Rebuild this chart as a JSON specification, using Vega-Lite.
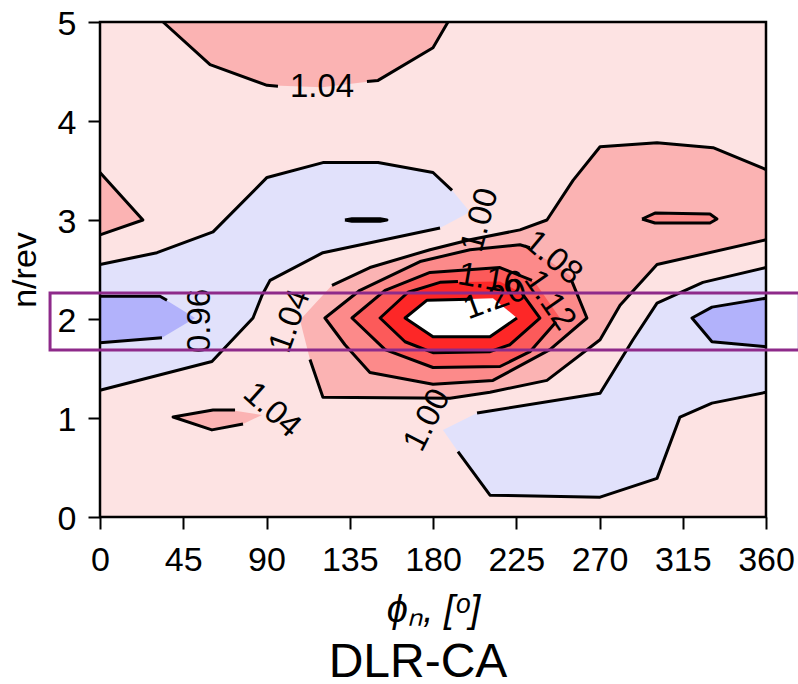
{
  "$schema": "https://vega.github.io/schema/vega-lite/v6.json",
  "width": 666,
  "height": 495,
  "autosize": {"type": "none"},
  "padding": {"left": 100, "top": 22, "right": 32, "bottom": 167},
  "background": "white",
  "config": {
    "font": "Liberation Sans",
    "view": {"stroke": null, "fill": "#fde3e3"}
  },
  "title": {
    "text": "DLR-CA",
    "orient": "bottom",
    "anchor": "middle",
    "offset": 48,
    "baseline": "alphabetic",
    "dx": -15,
    "fontSize": 48,
    "fontWeight": "normal",
    "color": "black"
  },
  "datasets": {
    "regions": [
      {"s": "B1", "lo": 0.96, "k": 1, "x": 0, "y": 2.55},
      {"s": "B1", "lo": 0.96, "k": 2, "x": 30.8, "y": 2.67},
      {"s": "B1", "lo": 0.96, "k": 3, "x": 61.1, "y": 2.88},
      {"s": "B1", "lo": 0.96, "k": 4, "x": 90.3, "y": 3.43},
      {"s": "B1", "lo": 0.96, "k": 5, "x": 120.5, "y": 3.58},
      {"s": "B1", "lo": 0.96, "k": 6, "x": 150.3, "y": 3.58},
      {"s": "B1", "lo": 0.96, "k": 7, "x": 180, "y": 3.48},
      {"s": "B1", "lo": 0.96, "k": 8, "x": 190.3, "y": 3.3},
      {"s": "B1", "lo": 0.96, "k": 9, "x": 200, "y": 3.08},
      {"s": "B1", "lo": 0.96, "k": 10, "x": 183.8, "y": 2.92},
      {"s": "B1", "lo": 0.96, "k": 11, "x": 120.5, "y": 2.67},
      {"s": "B1", "lo": 0.96, "k": 12, "x": 91.9, "y": 2.39},
      {"s": "B1", "lo": 0.96, "k": 13, "x": 87.6, "y": 2.24},
      {"s": "B1", "lo": 0.96, "k": 14, "x": 82.7, "y": 2.01},
      {"s": "B1", "lo": 0.96, "k": 15, "x": 66.5, "y": 1.69},
      {"s": "B1", "lo": 0.96, "k": 16, "x": 60.5, "y": 1.57},
      {"s": "B1", "lo": 0.96, "k": 17, "x": 0, "y": 1.28},

      {"s": "B2", "lo": 0.96, "k": 1, "x": 360, "y": 2.52},
      {"s": "B2", "lo": 0.96, "k": 2, "x": 325.9, "y": 2.37},
      {"s": "B2", "lo": 0.96, "k": 3, "x": 301.1, "y": 2.16},
      {"s": "B2", "lo": 0.96, "k": 4, "x": 288.1, "y": 1.79},
      {"s": "B2", "lo": 0.96, "k": 5, "x": 270.3, "y": 1.25},
      {"s": "B2", "lo": 0.96, "k": 6, "x": 203.8, "y": 1.05},
      {"s": "B2", "lo": 0.96, "k": 7, "x": 185.4, "y": 0.88},
      {"s": "B2", "lo": 0.96, "k": 8, "x": 193.5, "y": 0.66},
      {"s": "B2", "lo": 0.96, "k": 9, "x": 210.8, "y": 0.22},
      {"s": "B2", "lo": 0.96, "k": 10, "x": 270.3, "y": 0.2},
      {"s": "B2", "lo": 0.96, "k": 11, "x": 301.1, "y": 0.39},
      {"s": "B2", "lo": 0.96, "k": 12, "x": 313.5, "y": 1.01},
      {"s": "B2", "lo": 0.96, "k": 13, "x": 330.8, "y": 1.15},
      {"s": "B2", "lo": 0.96, "k": 14, "x": 360, "y": 1.26},

      {"s": "D1", "lo": 0.92, "k": 1, "x": 0, "y": 2.23},
      {"s": "D1", "lo": 0.92, "k": 2, "x": 32.4, "y": 2.23},
      {"s": "D1", "lo": 0.92, "k": 3, "x": 51.4, "y": 2.01},
      {"s": "D1", "lo": 0.92, "k": 4, "x": 33.5, "y": 1.81},
      {"s": "D1", "lo": 0.92, "k": 5, "x": 0, "y": 1.76},

      {"s": "D2", "lo": 0.92, "k": 1, "x": 360, "y": 2.21},
      {"s": "D2", "lo": 0.92, "k": 2, "x": 330.8, "y": 2.12},
      {"s": "D2", "lo": 0.92, "k": 3, "x": 320, "y": 2.01},
      {"s": "D2", "lo": 0.92, "k": 4, "x": 330.8, "y": 1.77},
      {"s": "D2", "lo": 0.92, "k": 5, "x": 360, "y": 1.72},

      {"s": "S2", "lo": 0.92, "k": 1, "x": 132.4, "y": 3.0},
      {"s": "S2", "lo": 0.92, "k": 2, "x": 136.2, "y": 3.012},
      {"s": "S2", "lo": 0.92, "k": 3, "x": 151.4, "y": 3.012},
      {"s": "S2", "lo": 0.92, "k": 4, "x": 155.1, "y": 3.0},
      {"s": "S2", "lo": 0.92, "k": 5, "x": 151.4, "y": 2.988},
      {"s": "S2", "lo": 0.92, "k": 6, "x": 136.2, "y": 2.988},

      {"s": "P1", "lo": 1.04, "k": 1, "x": 34.1, "y": 5},
      {"s": "P1", "lo": 1.04, "k": 2, "x": 59.5, "y": 4.57},
      {"s": "P1", "lo": 1.04, "k": 3, "x": 90.3, "y": 4.36},
      {"s": "P1", "lo": 1.04, "k": 4, "x": 120, "y": 4.34},
      {"s": "P1", "lo": 1.04, "k": 5, "x": 150.3, "y": 4.41},
      {"s": "P1", "lo": 1.04, "k": 6, "x": 180, "y": 4.74},
      {"s": "P1", "lo": 1.04, "k": 7, "x": 188.1, "y": 5},

      {"s": "P2", "lo": 1.04, "k": 1, "x": 0, "y": 3.48},
      {"s": "P2", "lo": 1.04, "k": 2, "x": 23.2, "y": 3.0},
      {"s": "P2", "lo": 1.04, "k": 3, "x": 0, "y": 2.85},

      {"s": "P3", "lo": 1.04, "k": 1, "x": 108.1, "y": 1.99},
      {"s": "P3", "lo": 1.04, "k": 2, "x": 125.4, "y": 2.34},
      {"s": "P3", "lo": 1.04, "k": 3, "x": 145.9, "y": 2.52},
      {"s": "P3", "lo": 1.04, "k": 4, "x": 178.4, "y": 2.7},
      {"s": "P3", "lo": 1.04, "k": 5, "x": 200, "y": 2.8},
      {"s": "P3", "lo": 1.04, "k": 6, "x": 227, "y": 2.9},
      {"s": "P3", "lo": 1.04, "k": 7, "x": 241.6, "y": 3.0},
      {"s": "P3", "lo": 1.04, "k": 8, "x": 255.7, "y": 3.4},
      {"s": "P3", "lo": 1.04, "k": 9, "x": 270.3, "y": 3.74},
      {"s": "P3", "lo": 1.04, "k": 10, "x": 301.1, "y": 3.78},
      {"s": "P3", "lo": 1.04, "k": 11, "x": 331.4, "y": 3.73},
      {"s": "P3", "lo": 1.04, "k": 12, "x": 360, "y": 3.51},
      {"s": "P3", "lo": 1.04, "k": 13, "x": 360, "y": 2.8},
      {"s": "P3", "lo": 1.04, "k": 14, "x": 301.1, "y": 2.55},
      {"s": "P3", "lo": 1.04, "k": 15, "x": 281.1, "y": 2.14},
      {"s": "P3", "lo": 1.04, "k": 16, "x": 270.3, "y": 1.79},
      {"s": "P3", "lo": 1.04, "k": 17, "x": 241.6, "y": 1.38},
      {"s": "P3", "lo": 1.04, "k": 18, "x": 210.8, "y": 1.26},
      {"s": "P3", "lo": 1.04, "k": 19, "x": 189.2, "y": 1.2},
      {"s": "P3", "lo": 1.04, "k": 20, "x": 120.5, "y": 1.21},
      {"s": "P3", "lo": 1.04, "k": 21, "x": 113.5, "y": 1.59},

      {"s": "P4", "lo": 1.04, "k": 1, "x": 39.5, "y": 1.01},
      {"s": "P4", "lo": 1.04, "k": 2, "x": 61.1, "y": 1.08},
      {"s": "P4", "lo": 1.04, "k": 3, "x": 70.3, "y": 1.08},
      {"s": "P4", "lo": 1.04, "k": 4, "x": 87.6, "y": 1.03},
      {"s": "P4", "lo": 1.04, "k": 5, "x": 77.3, "y": 0.94},
      {"s": "P4", "lo": 1.04, "k": 6, "x": 60.5, "y": 0.88},

      {"s": "R1", "lo": 1.08, "k": 1, "x": 121.6, "y": 2.01},
      {"s": "R1", "lo": 1.08, "k": 2, "x": 140.5, "y": 2.29},
      {"s": "R1", "lo": 1.08, "k": 3, "x": 173, "y": 2.58},
      {"s": "R1", "lo": 1.08, "k": 4, "x": 200, "y": 2.7},
      {"s": "R1", "lo": 1.08, "k": 5, "x": 227, "y": 2.75},
      {"s": "R1", "lo": 1.08, "k": 6, "x": 243.2, "y": 2.58},
      {"s": "R1", "lo": 1.08, "k": 7, "x": 254.1, "y": 2.44},
      {"s": "R1", "lo": 1.08, "k": 8, "x": 263.2, "y": 2.01},
      {"s": "R1", "lo": 1.08, "k": 9, "x": 243.2, "y": 1.69},
      {"s": "R1", "lo": 1.08, "k": 10, "x": 212.4, "y": 1.38},
      {"s": "R1", "lo": 1.08, "k": 11, "x": 180, "y": 1.34},
      {"s": "R1", "lo": 1.08, "k": 12, "x": 145.9, "y": 1.46},
      {"s": "R1", "lo": 1.08, "k": 13, "x": 132.4, "y": 1.74},

      {"s": "S1", "lo": 1.08, "k": 1, "x": 293, "y": 3.01},
      {"s": "S1", "lo": 1.08, "k": 2, "x": 300, "y": 3.07},
      {"s": "S1", "lo": 1.08, "k": 3, "x": 329.7, "y": 3.06},
      {"s": "S1", "lo": 1.08, "k": 4, "x": 333.5, "y": 3.01},
      {"s": "S1", "lo": 1.08, "k": 5, "x": 329.7, "y": 2.97},
      {"s": "S1", "lo": 1.08, "k": 6, "x": 300, "y": 2.97},

      {"s": "R2", "lo": 1.12, "k": 1, "x": 136.2, "y": 2.01},
      {"s": "R2", "lo": 1.12, "k": 2, "x": 154.1, "y": 2.29},
      {"s": "R2", "lo": 1.12, "k": 3, "x": 178.4, "y": 2.47},
      {"s": "R2", "lo": 1.12, "k": 4, "x": 216.2, "y": 2.52},
      {"s": "R2", "lo": 1.12, "k": 5, "x": 235.1, "y": 2.37},
      {"s": "R2", "lo": 1.12, "k": 6, "x": 248.6, "y": 2.01},
      {"s": "R2", "lo": 1.12, "k": 7, "x": 232.4, "y": 1.67},
      {"s": "R2", "lo": 1.12, "k": 8, "x": 216.2, "y": 1.52},
      {"s": "R2", "lo": 1.12, "k": 9, "x": 180, "y": 1.51},
      {"s": "R2", "lo": 1.12, "k": 10, "x": 154.1, "y": 1.69},

      {"s": "R3", "lo": 1.16, "k": 1, "x": 151.4, "y": 2.01},
      {"s": "R3", "lo": 1.16, "k": 2, "x": 166.5, "y": 2.27},
      {"s": "R3", "lo": 1.16, "k": 3, "x": 183.8, "y": 2.37},
      {"s": "R3", "lo": 1.16, "k": 4, "x": 216.2, "y": 2.38},
      {"s": "R3", "lo": 1.16, "k": 5, "x": 228.1, "y": 2.26},
      {"s": "R3", "lo": 1.16, "k": 6, "x": 237.8, "y": 2.01},
      {"s": "R3", "lo": 1.16, "k": 7, "x": 221.6, "y": 1.74},
      {"s": "R3", "lo": 1.16, "k": 8, "x": 210.8, "y": 1.67},
      {"s": "R3", "lo": 1.16, "k": 9, "x": 180, "y": 1.66},
      {"s": "R3", "lo": 1.16, "k": 10, "x": 164.9, "y": 1.77},

      {"s": "R4", "lo": 1.2, "k": 1, "x": 164.9, "y": 2.01},
      {"s": "R4", "lo": 1.2, "k": 2, "x": 176.8, "y": 2.19},
      {"s": "R4", "lo": 1.2, "k": 3, "x": 212.4, "y": 2.21},
      {"s": "R4", "lo": 1.2, "k": 4, "x": 225.4, "y": 2.01},
      {"s": "R4", "lo": 1.2, "k": 5, "x": 210.8, "y": 1.82},
      {"s": "R4", "lo": 1.2, "k": 6, "x": 180, "y": 1.82}
    ],
    "contours": [
      {"l": "top_a", "k": 1, "x": 34.1, "y": 5},
      {"l": "top_a", "k": 2, "x": 59.5, "y": 4.57},
      {"l": "top_a", "k": 3, "x": 90.3, "y": 4.36},
      {"l": "top_a", "k": 4, "x": 96.2, "y": 4.35},
      {"l": "top_b", "k": 1, "x": 144.3, "y": 4.4},
      {"l": "top_b", "k": 2, "x": 150.3, "y": 4.41},
      {"l": "top_b", "k": 3, "x": 180, "y": 4.74},
      {"l": "top_b", "k": 4, "x": 188.1, "y": 5},

      {"l": "left_tri", "k": 1, "x": 0, "y": 3.48},
      {"l": "left_tri", "k": 2, "x": 23.2, "y": 3.0},
      {"l": "left_tri", "k": 3, "x": 0, "y": 2.85},

      {"l": "blue1_up", "k": 1, "x": 0, "y": 2.55},
      {"l": "blue1_up", "k": 2, "x": 30.8, "y": 2.67},
      {"l": "blue1_up", "k": 3, "x": 61.1, "y": 2.88},
      {"l": "blue1_up", "k": 4, "x": 90.3, "y": 3.43},
      {"l": "blue1_up", "k": 5, "x": 120.5, "y": 3.58},
      {"l": "blue1_up", "k": 6, "x": 150.3, "y": 3.58},
      {"l": "blue1_up", "k": 7, "x": 180, "y": 3.48},
      {"l": "blue1_up", "k": 8, "x": 190.3, "y": 3.3},

      {"l": "blue1_lo", "k": 1, "x": 183.8, "y": 2.92},
      {"l": "blue1_lo", "k": 2, "x": 120.5, "y": 2.67},
      {"l": "blue1_lo", "k": 3, "x": 91.9, "y": 2.39},
      {"l": "blue1_lo", "k": 4, "x": 87.6, "y": 2.24},
      {"l": "blue1_lo", "k": 5, "x": 82.7, "y": 2.01},
      {"l": "blue1_lo", "k": 6, "x": 66.5, "y": 1.69},
      {"l": "blue1_lo", "k": 7, "x": 60.5, "y": 1.57},
      {"l": "blue1_lo", "k": 8, "x": 0, "y": 1.28},

      {"l": "dark1_up", "k": 1, "x": 0, "y": 2.23},
      {"l": "dark1_up", "k": 2, "x": 32.4, "y": 2.23},
      {"l": "dark1_up", "k": 3, "x": 36.2, "y": 2.19},
      {"l": "dark1_lo", "k": 1, "x": 33.5, "y": 1.81},
      {"l": "dark1_lo", "k": 2, "x": 0, "y": 1.76},

      {"l": "dark2", "k": 1, "x": 360, "y": 2.21},
      {"l": "dark2", "k": 2, "x": 330.8, "y": 2.12},
      {"l": "dark2", "k": 3, "x": 320, "y": 2.01},
      {"l": "dark2", "k": 4, "x": 330.8, "y": 1.77},
      {"l": "dark2", "k": 5, "x": 360, "y": 1.72},

      {"l": "sliver_l", "k": 1, "x": 132.4, "y": 3.0},
      {"l": "sliver_l", "k": 2, "x": 136.2, "y": 3.012},
      {"l": "sliver_l", "k": 3, "x": 151.4, "y": 3.012},
      {"l": "sliver_l", "k": 4, "x": 155.1, "y": 3.0},
      {"l": "sliver_l", "k": 5, "x": 151.4, "y": 2.988},
      {"l": "sliver_l", "k": 6, "x": 136.2, "y": 2.988},
      {"l": "sliver_l", "k": 7, "x": 132.4, "y": 3.0},

      {"l": "blue2_up", "k": 1, "x": 360, "y": 2.52},
      {"l": "blue2_up", "k": 2, "x": 325.9, "y": 2.37},
      {"l": "blue2_up", "k": 3, "x": 301.1, "y": 2.16},
      {"l": "blue2_up", "k": 4, "x": 288.1, "y": 1.79},
      {"l": "blue2_up", "k": 5, "x": 270.3, "y": 1.25},
      {"l": "blue2_up", "k": 6, "x": 203.8, "y": 1.05},

      {"l": "blue2_lo", "k": 1, "x": 193.5, "y": 0.66},
      {"l": "blue2_lo", "k": 2, "x": 210.8, "y": 0.22},
      {"l": "blue2_lo", "k": 3, "x": 270.3, "y": 0.2},
      {"l": "blue2_lo", "k": 4, "x": 301.1, "y": 0.39},
      {"l": "blue2_lo", "k": 5, "x": 313.5, "y": 1.01},
      {"l": "blue2_lo", "k": 6, "x": 330.8, "y": 1.15},
      {"l": "blue2_lo", "k": 7, "x": 360, "y": 1.26},

      {"l": "pink_up", "k": 1, "x": 125.4, "y": 2.34},
      {"l": "pink_up", "k": 2, "x": 145.9, "y": 2.52},
      {"l": "pink_up", "k": 3, "x": 178.4, "y": 2.7},
      {"l": "pink_up", "k": 4, "x": 200, "y": 2.8},
      {"l": "pink_up", "k": 5, "x": 227, "y": 2.9},
      {"l": "pink_up", "k": 6, "x": 241.6, "y": 3.0},
      {"l": "pink_up", "k": 7, "x": 255.7, "y": 3.4},
      {"l": "pink_up", "k": 8, "x": 270.3, "y": 3.74},
      {"l": "pink_up", "k": 9, "x": 301.1, "y": 3.78},
      {"l": "pink_up", "k": 10, "x": 331.4, "y": 3.73},
      {"l": "pink_up", "k": 11, "x": 360, "y": 3.51},

      {"l": "pink_lo", "k": 1, "x": 360, "y": 2.8},
      {"l": "pink_lo", "k": 2, "x": 301.1, "y": 2.55},
      {"l": "pink_lo", "k": 3, "x": 281.1, "y": 2.14},
      {"l": "pink_lo", "k": 4, "x": 270.3, "y": 1.79},
      {"l": "pink_lo", "k": 5, "x": 241.6, "y": 1.38},
      {"l": "pink_lo", "k": 6, "x": 210.8, "y": 1.26},
      {"l": "pink_lo", "k": 7, "x": 189.2, "y": 1.2},
      {"l": "pink_lo", "k": 8, "x": 120.5, "y": 1.21},
      {"l": "pink_lo", "k": 9, "x": 113.5, "y": 1.59},

      {"l": "pink_small", "k": 1, "x": 73, "y": 1.08},
      {"l": "pink_small", "k": 2, "x": 70.3, "y": 1.08},
      {"l": "pink_small", "k": 3, "x": 61.1, "y": 1.08},
      {"l": "pink_small", "k": 4, "x": 39.5, "y": 1.01},
      {"l": "pink_small", "k": 5, "x": 60.5, "y": 0.88},
      {"l": "pink_small", "k": 6, "x": 77.3, "y": 0.94},

      {"l": "ring108", "k": 1, "x": 255.1, "y": 2.38},
      {"l": "ring108", "k": 2, "x": 263.2, "y": 2.01},
      {"l": "ring108", "k": 3, "x": 243.2, "y": 1.69},
      {"l": "ring108", "k": 4, "x": 212.4, "y": 1.38},
      {"l": "ring108", "k": 5, "x": 180, "y": 1.34},
      {"l": "ring108", "k": 6, "x": 145.9, "y": 1.46},
      {"l": "ring108", "k": 7, "x": 132.4, "y": 1.74},
      {"l": "ring108", "k": 8, "x": 121.6, "y": 2.01},
      {"l": "ring108", "k": 9, "x": 140.5, "y": 2.29},
      {"l": "ring108", "k": 10, "x": 173, "y": 2.58},
      {"l": "ring108", "k": 11, "x": 200, "y": 2.7},
      {"l": "ring108", "k": 12, "x": 227, "y": 2.75},
      {"l": "ring108", "k": 13, "x": 232.4, "y": 2.72},

      {"l": "sliver_r", "k": 1, "x": 293, "y": 3.01},
      {"l": "sliver_r", "k": 2, "x": 300, "y": 3.07},
      {"l": "sliver_r", "k": 3, "x": 329.7, "y": 3.06},
      {"l": "sliver_r", "k": 4, "x": 333.5, "y": 3.01},
      {"l": "sliver_r", "k": 5, "x": 329.7, "y": 2.97},
      {"l": "sliver_r", "k": 6, "x": 300, "y": 2.97},
      {"l": "sliver_r", "k": 7, "x": 293, "y": 3.01},

      {"l": "ring112", "k": 1, "x": 246.5, "y": 1.97},
      {"l": "ring112", "k": 2, "x": 232.4, "y": 1.67},
      {"l": "ring112", "k": 3, "x": 216.2, "y": 1.52},
      {"l": "ring112", "k": 4, "x": 180, "y": 1.51},
      {"l": "ring112", "k": 5, "x": 154.1, "y": 1.69},
      {"l": "ring112", "k": 6, "x": 136.2, "y": 2.01},
      {"l": "ring112", "k": 7, "x": 154.1, "y": 2.29},
      {"l": "ring112", "k": 8, "x": 178.4, "y": 2.47},
      {"l": "ring112", "k": 9, "x": 216.2, "y": 2.52},
      {"l": "ring112", "k": 10, "x": 233.5, "y": 2.39},

      {"l": "ring116", "k": 1, "x": 228.1, "y": 2.26},
      {"l": "ring116", "k": 2, "x": 237.8, "y": 2.01},
      {"l": "ring116", "k": 3, "x": 221.6, "y": 1.74},
      {"l": "ring116", "k": 4, "x": 210.8, "y": 1.67},
      {"l": "ring116", "k": 5, "x": 180, "y": 1.66},
      {"l": "ring116", "k": 6, "x": 164.9, "y": 1.77},
      {"l": "ring116", "k": 7, "x": 151.4, "y": 2.01},
      {"l": "ring116", "k": 8, "x": 166.5, "y": 2.27},
      {"l": "ring116", "k": 9, "x": 183.8, "y": 2.37},
      {"l": "ring116", "k": 10, "x": 193.5, "y": 2.38},

      {"l": "ring120", "k": 1, "x": 225.4, "y": 2.01},
      {"l": "ring120", "k": 2, "x": 210.8, "y": 1.82},
      {"l": "ring120", "k": 3, "x": 180, "y": 1.82},
      {"l": "ring120", "k": 4, "x": 164.9, "y": 2.01},
      {"l": "ring120", "k": 5, "x": 176.8, "y": 2.19},
      {"l": "ring120", "k": 6, "x": 200, "y": 2.2}
    ],
    "labels": [
      {"t": "1.04", "x": 120, "y": 4.34, "a": 0},
      {"t": "1.04", "x": 93, "y": 1.08, "a": 42},
      {"t": "0.96", "x": 54.1, "y": 1.98, "a": -90},
      {"t": "1.04", "x": 102.7, "y": 1.98, "a": -70},
      {"t": "1.00", "x": 205.4, "y": 3.0, "a": -75},
      {"t": "1.00", "x": 176.8, "y": 0.98, "a": -63},
      {"t": "1.08", "x": 244.9, "y": 2.62, "a": 40},
      {"t": "1.12", "x": 243.2, "y": 2.19, "a": 55},
      {"t": "1.16", "x": 210.8, "y": 2.4, "a": 10},
      {"t": "1.20", "x": 213.5, "y": 2.2, "a": -20}
    ],
    "highlight": [{"x": -27, "xe": 378, "y": 1.687, "ye": 2.263}],
    "frame": [{"x": 0, "xe": 360, "y": 0, "ye": 5}]
  },
  "encoding": {
    "x": {
      "field": "x",
      "type": "quantitative",
      "scale": {"domain": [0, 360], "nice": false, "zero": false},
      "axis": {
        "values": [0, 45, 90, 135, 180, 225, 270, 315, 360],
        "grid": false,
        "domain": false,
        "ticks": true,
        "tickSize": 12,
        "tickWidth": 2,
        "tickColor": "black",
        "labelFontSize": 34,
        "labelColor": "black",
        "labelPadding": 14,
        "labelFlush": false,
        "labelOverlap": false,
        "title": "ϕₙ, [ᵒ]",
        "titleFontSize": 38,
        "titleFontWeight": "normal",
        "titleFontStyle": "italic",
        "titleColor": "black",
        "titleBaseline": "alphabetic",
        "titleY": 104
      }
    },
    "y": {
      "field": "y",
      "type": "quantitative",
      "scale": {"domain": [0, 5], "nice": false, "zero": false},
      "axis": {
        "values": [0, 1, 2, 3, 4, 5],
        "grid": false,
        "domain": false,
        "ticks": true,
        "tickSize": 12,
        "tickWidth": 2,
        "tickColor": "black",
        "labelFontSize": 34,
        "labelColor": "black",
        "labelPadding": 12,
        "labelFlush": false,
        "labelOverlap": false,
        "labelBaseline": "alphabetic",
        "labelOffset": 12,
        "title": "n/rev",
        "titleFontSize": 34,
        "titleFontWeight": "normal",
        "titleColor": "black",
        "titleAngle": 270,
        "titleBaseline": "alphabetic",
        "titleX": -65
      }
    }
  },
  "layer": [
    {
      "data": {"name": "regions"},
      "transform": [{"filter": "datum.lo == 0.96"}],
      "mark": {"type": "line", "filled": true, "interpolate": "linear-closed", "color": "#e1e1fb"},
      "encoding": {"detail": {"field": "s"}, "order": {"field": "k", "type": "quantitative"}}
    },
    {
      "data": {"name": "regions"},
      "transform": [{"filter": "datum.lo == 0.92"}],
      "mark": {"type": "line", "filled": true, "interpolate": "linear-closed", "color": "#b2b2fb"},
      "encoding": {"detail": {"field": "s"}, "order": {"field": "k", "type": "quantitative"}}
    },
    {
      "data": {"name": "regions"},
      "transform": [{"filter": "datum.lo == 1.04"}],
      "mark": {"type": "line", "filled": true, "interpolate": "linear-closed", "color": "#fbb3b3"},
      "encoding": {"detail": {"field": "s"}, "order": {"field": "k", "type": "quantitative"}}
    },
    {
      "data": {"name": "regions"},
      "transform": [{"filter": "datum.lo == 1.08"}],
      "mark": {"type": "line", "filled": true, "interpolate": "linear-closed", "color": "#fc8a8a"},
      "encoding": {"detail": {"field": "s"}, "order": {"field": "k", "type": "quantitative"}}
    },
    {
      "data": {"name": "regions"},
      "transform": [{"filter": "datum.lo == 1.12"}],
      "mark": {"type": "line", "filled": true, "interpolate": "linear-closed", "color": "#fc5a5a"},
      "encoding": {"detail": {"field": "s"}, "order": {"field": "k", "type": "quantitative"}}
    },
    {
      "data": {"name": "regions"},
      "transform": [{"filter": "datum.lo == 1.16"}],
      "mark": {"type": "line", "filled": true, "interpolate": "linear-closed", "color": "#fd2727"},
      "encoding": {"detail": {"field": "s"}, "order": {"field": "k", "type": "quantitative"}}
    },
    {
      "data": {"name": "regions"},
      "transform": [{"filter": "datum.lo == 1.2"}],
      "mark": {"type": "line", "filled": true, "interpolate": "linear-closed", "color": "#ffffff"},
      "encoding": {"detail": {"field": "s"}, "order": {"field": "k", "type": "quantitative"}}
    },
    {
      "data": {"name": "contours"},
      "mark": {"type": "line", "color": "black", "strokeWidth": 3, "strokeJoin": "round"},
      "encoding": {"detail": {"field": "l"}, "order": {"field": "k", "type": "quantitative"}}
    },
    {
      "data": {"name": "labels"},
      "mark": {"type": "text", "fontSize": 33, "color": "black", "align": "center", "baseline": "middle"},
      "encoding": {
        "text": {"field": "t"},
        "angle": {"field": "a", "type": "quantitative", "scale": null}
      }
    },
    {
      "data": {"name": "frame"},
      "mark": {"type": "rect", "filled": false, "stroke": "black", "strokeWidth": 2.5},
      "encoding": {"x2": {"field": "xe"}, "y2": {"field": "ye"}}
    },
    {
      "data": {"name": "highlight"},
      "mark": {"type": "rect", "filled": false, "stroke": "#8e2a8a", "strokeWidth": 3, "clip": false},
      "encoding": {"x2": {"field": "xe"}, "y2": {"field": "ye"}}
    }
  ]
}
